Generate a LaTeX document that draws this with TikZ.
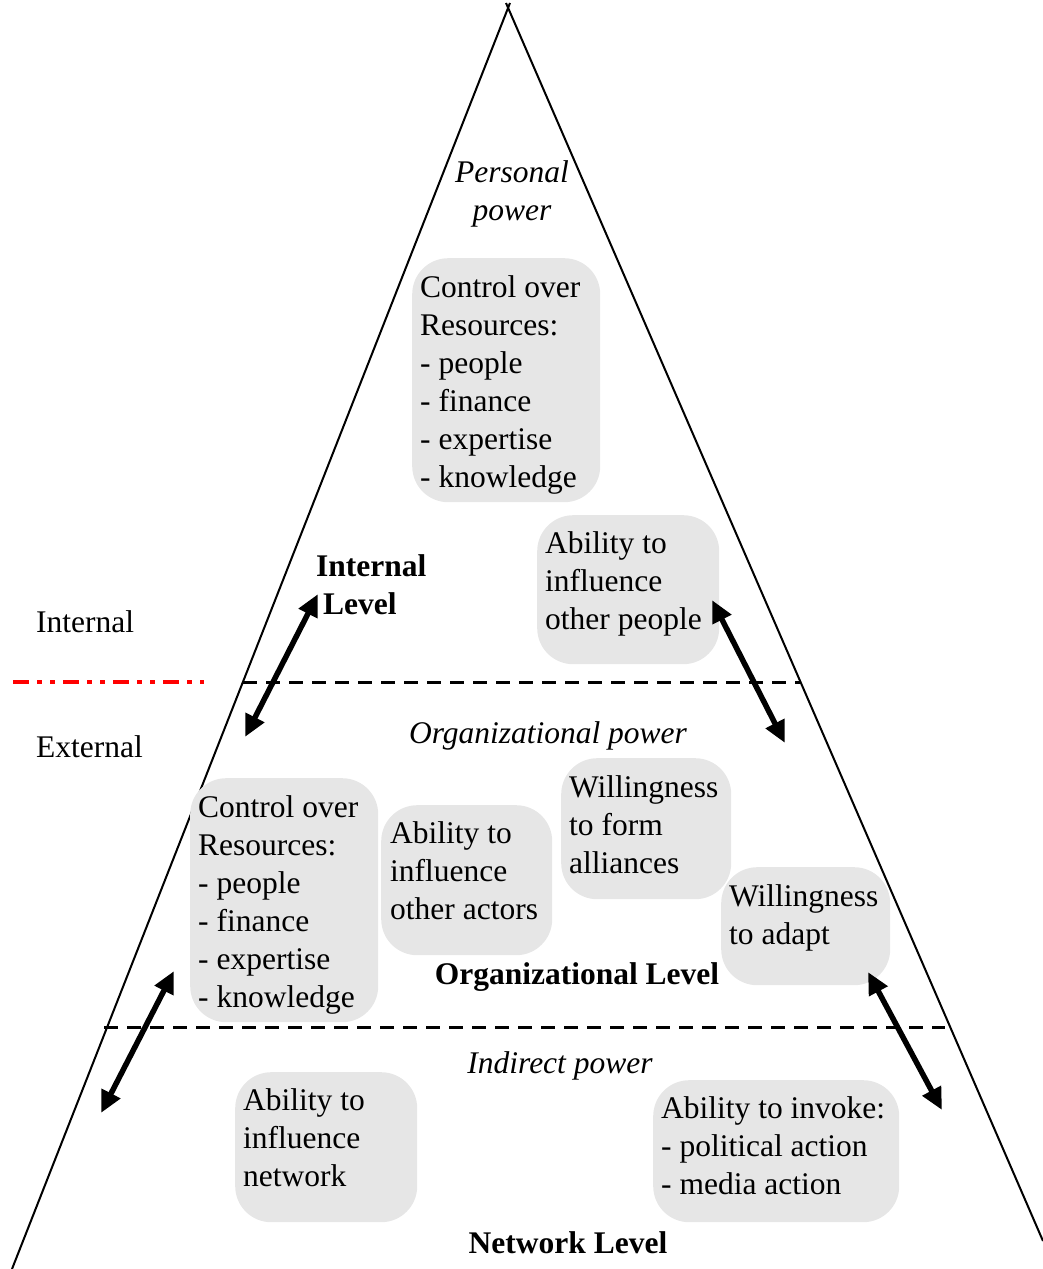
\documentclass[tikz,border=0pt]{standalone}
\usepackage{fontspec}
\setmainfont{Liberation Serif}
\usetikzlibrary{arrows.meta}
\definecolor{boxgray}{HTML}{E6E6E6}
\newcommand{\dfont}{\fontsize{31.5}{38}\selectfont}
\tikzset{
  txt/.style={font=\dfont, inner sep=0pt, anchor=base},
  itxt/.style={txt, font=\dfont\itshape},
  btxt/.style={txt, font=\dfont\bfseries},
  gbox/.style={fill=boxgray, rounded corners=36pt, anchor=north west, inner sep=0pt},
  btext/.style={font=\dfont, inner sep=0pt, align=left, anchor=base west},
  dbl/.style={line width=5.5pt, {Triangle[length=22pt,width=20pt]}-{Triangle[length=22pt,width=20pt]}},
  side/.style={line width=2pt},
  sep/.style={line width=3pt, dash pattern=on 14pt off 9pt},
  redsep/.style={line width=3.5pt, red, dash pattern=on 16pt off 8pt on 5pt off 8pt on 5pt off 8pt}
}
\begin{document}
\begin{tikzpicture}[x=1pt,y=-1pt]
\useasboundingbox (0,0) rectangle (1043,1269);
\clip (0,0) rectangle (1043,1269);
% triangle sides
\coordinate (apex) at (508,8);
\coordinate (bl) at (12,1269);
\coordinate (br) at (1043,1241);
\draw[side] (bl) -- (510,3);
\draw[side] (br) -- (506,3);
% separators
\coordinate (s1l) at (243,682); \coordinate (s1r) at (800,682);
\coordinate (s2l) at (104,1027); \coordinate (s2r) at (945,1027);
\draw[sep] (s1l) -- (s1r);
\draw[sep] (s2l) -- (s2r);
\coordinate (r1) at (13,682); \coordinate (r2) at (204,682);
\draw[redsep] (r1) -- (r2);
% level titles
\node[itxt] (pp1) at (512,182) {Personal};
\node[itxt] (pp2) at (512,220) {power};
\node[itxt] (op) at (548,743) {Organizational power};
\node[itxt] (ip) at (560,1073) {Indirect power};
\node[btxt, anchor=base west] (il1) at (316,576) {Internal};
\node[btxt, anchor=base west] (il2) at (323,614) {Level};
\node[btxt] (ol) at (577,984) {Organizational Level};
\node[btxt] (nl) at (568,1253) {Network Level};
\node[txt, anchor=base west] (int) at (36,632) {Internal};
\node[txt, anchor=base west] (ext) at (36,757) {External};
% boxes (text anchored at the baseline of its last line)
\node[gbox, minimum width=188pt, minimum height=244pt] (b1) at (412,258) {};
\node[btext] (t1) at (420,487) {Control over\\Resources:\\- people\\- finance\\- expertise\\- knowledge};
\node[gbox, minimum width=182pt, minimum height=149pt] (b2) at (537,515) {};
\node[btext] (t2) at (545,629) {Ability to\\influence\\other people};
\node[gbox, minimum width=188pt, minimum height=244pt] (b3) at (190,778) {};
\node[btext] (t3) at (198,1007) {Control over\\Resources:\\- people\\- finance\\- expertise\\- knowledge};
\node[gbox, minimum width=171pt, minimum height=150pt] (b4) at (381,805) {};
\node[btext] (t4) at (390,919) {Ability to\\influence\\other actors};
\node[gbox, minimum width=170pt, minimum height=141pt] (b5) at (561,758) {};
\node[btext] (t5) at (569,873) {Willingness\\to form\\alliances};
\node[gbox, minimum width=169pt, minimum height=118pt] (b6) at (721,867) {};
\node[btext] (t6) at (729,944) {Willingness\\to adapt};
\node[gbox, minimum width=182pt, minimum height=150pt] (b7) at (235,1072) {};
\node[btext] (t7) at (243,1186) {Ability to\\influence\\network};
\node[gbox, minimum width=246pt, minimum height=142pt] (b8) at (653,1080) {};
\node[btext] (t8) at (661,1194) {Ability to invoke:\\- political action\\- media action};
% arrows
\coordinate (a1t) at (318,594); \coordinate (a1b) at (245,737);
\coordinate (a2t) at (712,600); \coordinate (a2b) at (785,743);
\coordinate (a3t) at (174,971); \coordinate (a3b) at (101,1113);
\coordinate (a4t) at (868,972); \coordinate (a4b) at (942,1110);
\draw[dbl] (a1b) -- (a1t);
\draw[dbl] (a2t) -- (a2b);
\draw[dbl] (a3b) -- (a3t);
\draw[dbl] (a4t) -- (a4b);
\end{tikzpicture}
\end{document}
